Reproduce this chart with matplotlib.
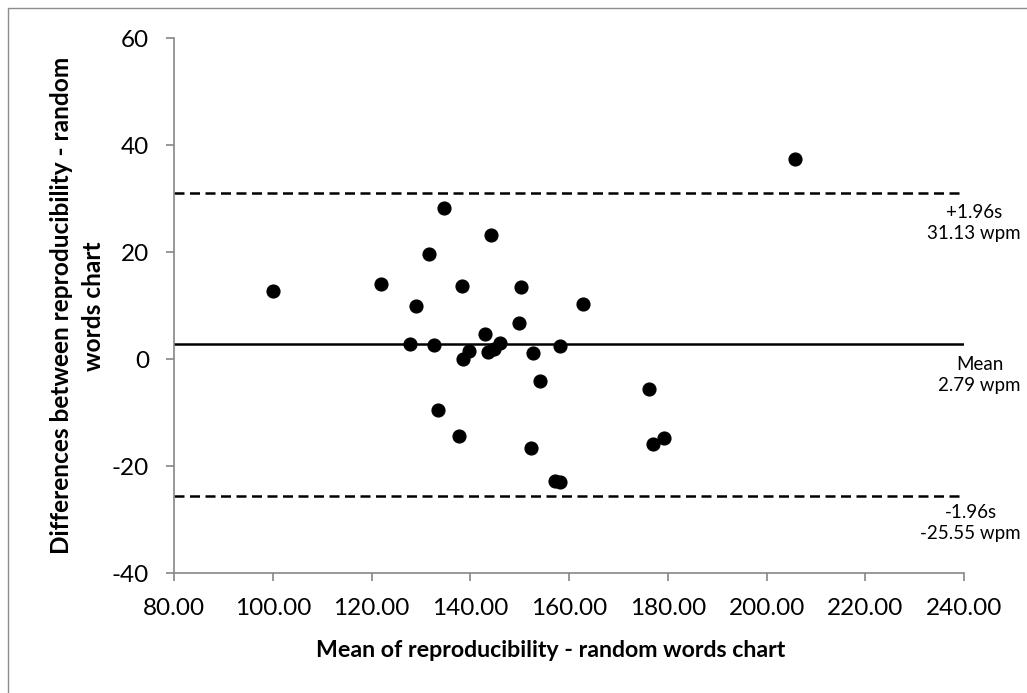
import matplotlib
matplotlib.use("Agg")
import matplotlib.pyplot as plt
from matplotlib.patches import Rectangle

plt.rcParams['font.family'] = ['Lato', 'DejaVu Sans']
plt.rcParams['axes.unicode_minus'] = False

# Bland-Altman data
mean_vals = [100.0, 121.9, 128.9, 131.7, 134.6, 138.3, 144.1, 150.3, 149.8, 142.9,
             127.7, 132.7, 138.5, 139.7, 143.5, 144.7, 146.0, 152.6, 158.2, 154.1,
             133.5, 137.7, 152.2, 157.2, 158.2, 205.7, 162.9, 176.1, 177.0, 179.2]
diff_vals = [12.8, 14.1, 10.0, 19.7, 28.3, 13.7, 23.2, 13.5, 6.8, 4.7,
             2.9, 2.6, 0.0, 1.6, 1.4, 1.9, 3.0, 1.1, 2.4, -4.0,
             -9.5, -14.4, -16.6, -22.7, -23.0, 37.4, 10.3, -5.5, -15.8, -14.7]

mean_diff = 2.79
upper_loa = 31.13
lower_loa = -25.55

x_ticks = [80, 100, 120, 140, 160, 180, 200, 220, 240]
y_ticks = [-40, -20, 0, 20, 40, 60]

fig = plt.figure(figsize=(10.27, 6.93), dpi=100)
ax = fig.add_axes([0.1694, 0.1727, 0.7695, 0.772])

# chart area border (Excel style)
fig.patches.append(Rectangle((8 / 1027, -0.01), 1.1, 1 - 8 / 693 + 0.01,
                             transform=fig.transFigure, fill=False,
                             edgecolor='#8c8c8c', linewidth=1.0))

ax.plot(mean_vals, diff_vals, 'o', color='black', markersize=9.2, zorder=3)

ax.plot([80, 240], [upper_loa, upper_loa], color='black', linewidth=1.8,
        dashes=(4.0, 2.2))
ax.plot([80, 240], [mean_diff, mean_diff], color='black', linewidth=1.8)
ax.plot([80, 240], [lower_loa, lower_loa], color='black', linewidth=1.8,
        dashes=(4.0, 2.2))

ax.set_xlim(80, 240)
ax.set_ylim(-40, 60)
ax.set_xticks(x_ticks)
ax.set_xticklabels([f'{v:.2f}' for v in x_ticks])
ax.set_yticks(y_ticks)

for side in ['top', 'right']:
    ax.spines[side].set_visible(False)
for side in ['left', 'bottom']:
    ax.spines[side].set_color('#868686')
    ax.spines[side].set_linewidth(1.2)
ax.tick_params(direction='out', length=6, width=1.2, color='#868686',
               labelsize=17.5)
ax.tick_params(axis='x', pad=12)
ax.tick_params(axis='y', pad=12)

ax.set_xlabel('Mean of reproducibility - random words chart',
              fontsize=16.7, fontweight='bold')
ax.xaxis.set_label_coords(0.476, -0.125)
ax.set_ylabel('Differences between reproducibility - random\nwords chart',
              fontsize=17.6, fontweight='bold', linespacing=1.5)
ax.yaxis.set_label_coords(-0.087, 0.5)

# limit labels outside the plot area
label_x = 1021 / 1027
fig.text(label_x, 1 - 223 / 693, '+1.96s\n31.13 wpm', ha='right', va='center',
         multialignment='center', fontsize=13.5, linespacing=1.35)
fig.text(label_x, 1 - 375 / 693, 'Mean\n2.79 wpm', ha='right', va='center',
         multialignment='center', fontsize=13.5, linespacing=1.35)
fig.text(label_x, 1 - 523 / 693, '-1.96s\n-25.55 wpm', ha='right', va='center',
         multialignment='center', fontsize=13.5, linespacing=1.35)

fig.savefig('out.png', dpi=100)
